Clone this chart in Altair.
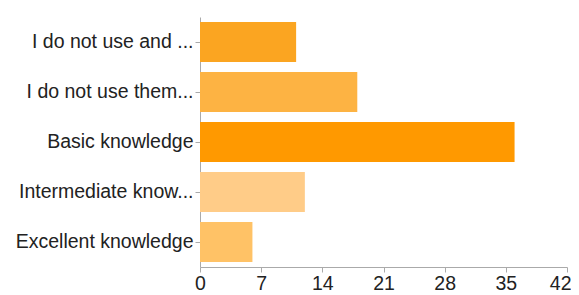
import altair as alt
import pandas as pd

categories = [
    "I do not use and ...",
    "I do not use them...",
    "Basic knowledge",
    "Intermediate know...",
    "Excellent knowledge",
]
values = [11, 18, 36, 12, 6]
colors = ["#FBA521", "#FDB343", "#FF9900", "#FFCC88", "#FFC266"]
ticks = [0, 7, 14, 21, 28, 35, 42]

df = pd.DataFrame({"category": categories, "value": values})

chart = (
    alt.Chart(df)
    .mark_bar()
    .encode(
        y=alt.Y(
            "category:N",
            sort=categories,
            title=None,
            scale=alt.Scale(paddingInner=0.2, paddingOuter=0.1),
            axis=alt.Axis(
                labelFontSize=19.5,
                labelFont="Liberation Sans",
                labelColor="#222222",
                labelLimit=400,
                labelPadding=2,
                tickSize=5,
                tickColor="#aaaaaa",
                domainColor="#aaaaaa",
                grid=False,
            ),
        ),
        x=alt.X(
            "value:Q",
            title=None,
            scale=alt.Scale(domain=[0, 42], nice=False),
            axis=alt.Axis(
                values=ticks,
                labelFontSize=19.5,
                labelFont="Liberation Sans",
                labelColor="#222222",
                labelPadding=2,
                tickSize=5,
                tickColor="#aaaaaa",
                domainColor="#aaaaaa",
                grid=False,
                labelFlush=False,
                labelAlign=alt.ExprRef("datum.value == 42 ? 'right' : 'center'"),
                labelOffset=alt.ExprRef("datum.value == 42 ? 4 : 0"),
            ),
        ),
        color=alt.Color(
            "category:N",
            scale=alt.Scale(domain=categories, range=colors),
            legend=None,
        ),
    )
    .properties(
        width=367,
        height=250,
        autosize=alt.AutoSizeParams(type="none"),
        padding={"left": 192, "top": 9, "right": 4, "bottom": 26},
    )
    .configure_view(stroke=None)
)

chart.save("out.html", embed_options={"renderer": "svg", "actions": False})
